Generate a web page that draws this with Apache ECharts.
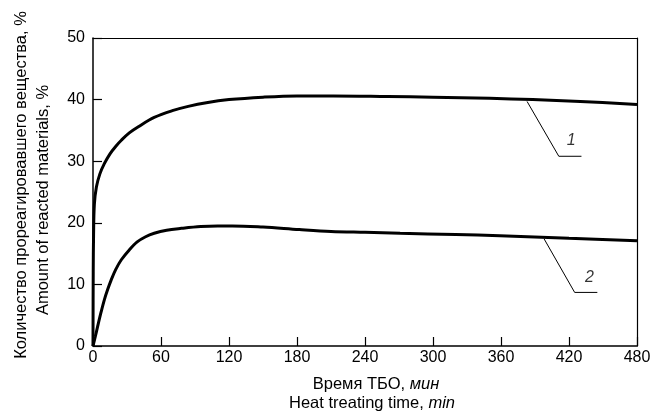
<!DOCTYPE html>
<html><head><meta charset="utf-8">
<script src="https://cdn.jsdelivr.net/npm/echarts@6/dist/echarts.min.js"></script>
<style>html,body{margin:0;padding:0;background:#fff}#c{width:662px;height:415px}</style>
</head><body><div id="c"></div>
<script>
var xTicks = [0, 60, 120, 180, 240, 300, 360, 420, 480];
var yTicks = [0, 10, 20, 30, 40, 50];
var curve1 = [[0,0],[0.2,12],[0.5,18],[1.2,23],[3,25.8],[6,27.9],[10,29.6],[15,31.2],[20,32.4],[25,33.4],[32,34.6],[40,35.6],[54,37.1],[70,38.2],[84,38.9],[100,39.5],[120,40.0],[150,40.4],[180,40.6],[212,40.6],[260,40.5],[300,40.4],[350,40.2],[388,40.0],[430,39.7],[480,39.2]];
var curve2 = [[0,0],[2,1.5],[4,3.1],[7,5.4],[10,7.5],[13,9.2],[16,10.7],[20,12.4],[25,14],[32,15.6],[39,16.9],[46,17.7],[54,18.3],[65,18.8],[78,19.1],[95,19.4],[110,19.5],[123,19.5],[150,19.3],[182,18.9],[210,18.6],[240,18.45],[271,18.3],[320,18.1],[359,17.9],[420,17.5],[480,17.1]];
var leader1 = [[383,39.7],[411,30.8],[431,30.8]];
var leader2 = [[398,17.4],[425,8.7],[445,8.7]];
var labels = [{name:'1', value:[422,33.3]}, {name:'2', value:[438,11.1]}];

var font = 'Liberation Sans, Arial, sans-serif';
var chart = echarts.init(document.getElementById('c'), null, {renderer:'canvas'});
function lineSeries(d, w, smooth){
  return {type:'line', data:d, symbol:'none', smooth:smooth,
    lineStyle:{color:'#000', width:w}, silent:true, animation:false};
}
var rich = {a:{fontFamily:font,fontSize:16.5,fill:'#000',color:'#000'},b:{fontFamily:font,fontSize:16.5,fontStyle:'italic',fill:'#000',color:'#000'}};
chart.setOption({
  animation:false,
  grid:{left:93, right:25, top:38, bottom:69},
  xAxis:[{type:'value', min:0, max:480, interval:60,
    axisLine:{show:true, lineStyle:{color:'#000', width:1.5}},
    axisTick:{show:true, inside:true, length:9, lineStyle:{color:'#000', width:1.2}},
    axisLabel:{color:'#000', fontFamily:font, fontSize:16, margin:4,
      formatter:function(v){return xTicks.indexOf(v)>=0? String(v):'';}},
    splitLine:{show:false}},
    {type:'value', position:'top', min:0, max:480, axisLine:{show:true, onZero:false, lineStyle:{color:'#000', width:1.2}},
     axisTick:{show:false}, axisLabel:{show:false}, splitLine:{show:false}}],
  yAxis:[{type:'value', min:0, max:50, interval:10,
    axisLine:{show:true, lineStyle:{color:'#000', width:1.5}},
    axisTick:{show:true, inside:true, length:9, lineStyle:{color:'#000', width:1.2}},
    axisLabel:{color:'#000', fontFamily:font, fontSize:16, margin:8,
      formatter:function(v){return yTicks.indexOf(v)>=0? String(v):'';}},
    splitLine:{show:false}},
    {type:'value', position:'right', min:0, max:50, axisLine:{show:true, onZero:false, lineStyle:{color:'#000', width:1.2}},
     axisTick:{show:false}, axisLabel:{show:false}, splitLine:{show:false}}],
  series:[
    lineSeries(curve1, 3, 0.35),
    lineSeries(curve2, 3, 0.35),
    lineSeries(leader1, 1, false),
    lineSeries(leader2, 1, false),
    {type:'scatter', data:labels, symbolSize:0, silent:true,
     label:{show:true, position:'inside', formatter:'{b}', color:'#000', fontFamily:font, fontStyle:'italic', fontSize:16}}
  ],
  graphic:[
    {type:'text', x:376, y:384, style:{rich:rich, text:'{a|Время ТБО, }{b|мин}', align:'center', verticalAlign:'middle'}},
    {type:'text', x:372, y:403, style:{rich:rich, text:'{a|Heat treating time, }{b|min}', align:'center', verticalAlign:'middle'}},
    {type:'text', x:21, y:185, rotation:Math.PI/2, style:{text:'Количество прореагировавшего вещества, %', fontFamily:font, fontSize:16.5, fill:'#000', align:'center', verticalAlign:'middle'}},
    {type:'text', x:43, y:200, rotation:Math.PI/2, style:{text:'Amount of reacted materials, %', fontFamily:font, fontSize:16.5, fill:'#000', align:'center', verticalAlign:'middle'}}
  ]
});
</script>
</body></html>
